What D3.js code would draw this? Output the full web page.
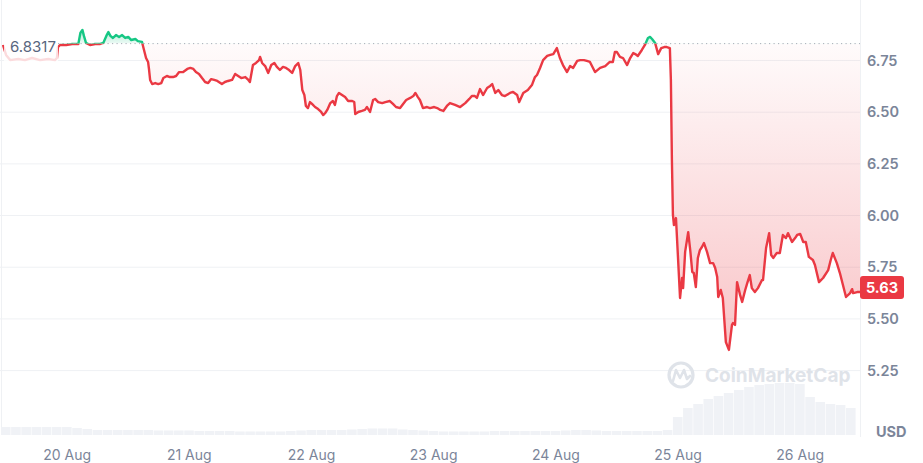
<!DOCTYPE html>
<html><head><meta charset="utf-8">
<script src="https://cdn.jsdelivr.net/npm/d3@7"></script>
<style>html,body{margin:0;padding:0;background:#fff;} svg{display:block;font-family:Inter,"DejaVu Sans",sans-serif;}</style>
</head><body><svg id="c" width="923" height="463"></svg>
<script>
// ---- data (hours since 20 Aug 00:00 UTC, price in USD) ----
const hours = [-12.6,-12.0,-11.2,-9.6,-8.3,-6.9,-5.3,-3.7,-2.4,-2.0,-1.8,-1.4,-0.2,1.0,2.2,2.6,3.0,3.3,3.7,4.5,5.5,6.5,7.1,7.7,8.1,8.5,9.0,9.6,10.2,10.8,11.4,12.0,12.6,13.4,13.9,14.7,15.1,15.5,15.9,16.1,16.3,16.7,17.3,17.9,18.5,18.9,19.6,20.2,20.8,21.4,22.0,22.8,23.6,24.2,24.8,25.3,25.9,26.5,27.1,27.7,28.3,28.9,29.5,30.1,30.4,31.0,31.6,32.4,33.0,33.6,34.2,35.0,35.6,35.9,36.5,37.1,37.7,37.9,38.3,38.9,39.5,40.1,40.7,41.2,41.8,42.4,43.0,43.6,44.2,44.8,45.4,45.8,46.2,46.6,46.9,47.3,47.7,48.1,48.7,49.3,49.9,50.3,50.7,51.1,51.7,52.2,52.6,53.0,53.4,54.0,54.6,55.2,56.0,56.4,56.6,57.2,57.9,58.5,58.9,59.5,60.1,60.5,61.1,61.9,62.5,63.4,64.0,64.6,65.4,66.0,66.6,67.4,68.0,68.4,68.9,69.3,69.9,70.7,71.3,72.1,72.7,73.3,73.9,74.6,75.2,76.2,77.2,78.2,79.0,79.5,80.1,80.5,81.1,81.7,82.5,83.1,83.5,84.1,84.7,85.4,86.0,87.0,87.6,88.4,88.8,89.6,90.5,91.3,91.9,92.3,92.9,93.5,94.3,94.9,95.5,96.2,96.8,97.4,98.2,98.8,99.4,100.2,100.8,101.5,102.1,102.7,103.7,104.7,105.7,106.6,107.2,107.6,108.0,108.6,109.2,110.0,110.6,111.2,111.6,112.1,112.9,113.5,114.1,114.5,114.9,115.5,116.1,116.7,117.3,117.8,118.4,118.6,118.8,119.0,119.2,119.6,120.0,120.4,120.8,121.0,121.4,122.0,122.4,122.8,123.1,123.5,123.9,124.3,124.7,125.1,125.7,126.3,126.9,127.3,127.7,127.9,128.4,128.8,129.4,130.0,130.6,130.8,131.2,131.6,132.2,132.6,133.2,133.6,134.1,134.5,135.1,135.7,136.5,136.7,137.3,137.9,138.3,138.7,139.4,140.0,140.6,141.2,141.6,142.4,143.0,143.4,144.0,144.6,145.1,145.7,146.5,146.9,147.7,148.5,149.5,150.0,150.4,151.2,151.8,152.4,153.0,153.8,154.2,154.4,155.2,155.75];
const prices = [6.825,6.777,6.752,6.757,6.752,6.762,6.752,6.757,6.752,6.762,6.815,6.825,6.825,6.830,6.830,6.883,6.898,6.869,6.835,6.825,6.830,6.830,6.835,6.869,6.888,6.869,6.859,6.873,6.864,6.873,6.859,6.864,6.849,6.854,6.844,6.840,6.801,6.762,6.743,6.704,6.656,6.636,6.641,6.636,6.641,6.665,6.675,6.670,6.670,6.675,6.694,6.694,6.709,6.714,6.709,6.694,6.685,6.665,6.646,6.641,6.660,6.656,6.651,6.641,6.636,6.646,6.651,6.656,6.685,6.675,6.665,6.670,6.656,6.646,6.728,6.738,6.752,6.767,6.738,6.723,6.690,6.728,6.738,6.719,6.704,6.719,6.714,6.704,6.690,6.723,6.738,6.704,6.607,6.583,6.530,6.520,6.549,6.540,6.525,6.515,6.501,6.486,6.496,6.511,6.544,6.554,6.535,6.578,6.593,6.583,6.573,6.554,6.554,6.549,6.491,6.501,6.506,6.511,6.525,6.501,6.559,6.564,6.549,6.544,6.549,6.554,6.540,6.525,6.520,6.540,6.559,6.569,6.578,6.593,6.573,6.559,6.520,6.525,6.520,6.525,6.520,6.511,6.506,6.530,6.544,6.535,6.525,6.544,6.564,6.578,6.578,6.569,6.612,6.583,6.617,6.627,6.636,6.593,6.607,6.583,6.578,6.593,6.598,6.583,6.549,6.593,6.607,6.631,6.670,6.680,6.714,6.752,6.772,6.777,6.781,6.810,6.762,6.728,6.694,6.723,6.714,6.748,6.752,6.752,6.748,6.743,6.694,6.714,6.723,6.743,6.743,6.791,6.791,6.767,6.762,6.728,6.762,6.786,6.781,6.772,6.801,6.825,6.859,6.864,6.854,6.835,6.781,6.810,6.815,6.815,6.810,6.656,6.269,6.003,5.954,5.988,5.795,5.601,5.698,5.649,5.824,5.920,5.833,5.727,5.722,5.654,5.795,5.833,5.848,5.867,5.824,5.770,5.770,5.746,5.703,5.606,5.640,5.601,5.388,5.350,5.471,5.480,5.471,5.678,5.615,5.582,5.640,5.673,5.712,5.649,5.630,5.649,5.688,5.688,5.843,5.915,5.809,5.795,5.819,5.819,5.906,5.891,5.915,5.872,5.891,5.906,5.911,5.872,5.872,5.800,5.785,5.761,5.678,5.698,5.736,5.785,5.819,5.770,5.722,5.664,5.606,5.625,5.644,5.625,5.630,5.630];
const basePrice = 6.8317;
const lastPriceLabel = "5.63";
const volStartHour = -12, volStepHours = 2; // volume bars every 2 hours
const volumes = [8,8,8,8,8,8,8,7,6,5,5,5,5,5,5,4.5,4.5,4.5,4.5,4,4,4,4,3.5,3.5,3.5,3.5,3.5,4,4.5,5,5,5,5,5.5,6,6.5,6.5,6.5,5.5,5,4.5,4,3.5,3.5,3.5,3.5,3.5,4,4,4,4,4,4,4,4.5,5,5,4.5,4,4,4,4,4,4,5,18,27,31,36,39,42,45,48,50,51,52,52,51,38,33,31,30,27];
const yTicks = [5.25,5.50,5.75,6.00,6.25,6.50,6.75];
const dayTicks = ["2024-08-20","2024-08-21","2024-08-22","2024-08-23","2024-08-24","2024-08-25","2024-08-26"];
const currency = "USD";
const watermark = "CoinMarketCap";

// ---- layout ----
const W = 923, H = 463;
const plotL = 1, plotR = 860, plotT = 0, plotB = 435;
const RED = "#ea3943", GREEN = "#16c784";
const t0 = Date.UTC(2024,7,20);
const toDate = h => new Date(t0 + h*3600e3);
const data = hours.map((h,i)=>({d: toDate(h), v: prices[i]}));

const svg = d3.select("#c");
const x = d3.scaleUtc().domain([data[0].d, data[data.length-1].d]).range([3, plotR]);
const y = d3.scaleLinear().domain([5.25, 6.75]).range([370.6, 60.5]);
const yb = y(basePrice);

const defs = svg.append("defs");
const gr = defs.append("linearGradient").attr("id","gRed").attr("gradientUnits","userSpaceOnUse")
  .attr("x1",0).attr("x2",0).attr("y1",yb).attr("y2",y(5.35));
gr.append("stop").attr("offset",0).attr("stop-color",RED).attr("stop-opacity",0.02);
gr.append("stop").attr("offset",1).attr("stop-color",RED).attr("stop-opacity",0.3);
const gg = defs.append("linearGradient").attr("id","gGreen").attr("gradientUnits","userSpaceOnUse")
  .attr("x1",0).attr("x2",0).attr("y1",y(6.9)).attr("y2",yb);
gg.append("stop").attr("offset",0).attr("stop-color",GREEN).attr("stop-opacity",0.35);
gg.append("stop").attr("offset",1).attr("stop-color",GREEN).attr("stop-opacity",0.08);
defs.append("clipPath").attr("id","above").append("rect").attr("x",0).attr("y",0).attr("width",plotR).attr("height",yb);
defs.append("clipPath").attr("id","below").append("rect").attr("x",0).attr("y",yb).attr("width",plotR).attr("height",plotB-yb);

// grid
svg.append("g").selectAll("line").data(yTicks).join("line")
  .attr("x1",0).attr("x2",plotR).attr("y1",d=>y(d)).attr("y2",d=>y(d))
  .attr("stroke","#eff1f4").attr("stroke-width",1);
// borders
svg.append("line").attr("x1",plotL+0.5).attr("x2",plotL+0.5).attr("y1",plotT).attr("y2",plotB).attr("stroke","#eff1f4");
svg.append("line").attr("x1",plotR+0.5).attr("x2",plotR+0.5).attr("y1",plotT).attr("y2",plotB+2).attr("stroke","#eff1f4");

// volume
const yv = d3.scaleLinear().domain([0, 60]).range([plotB, plotB-60]);
const volW = x(toDate(volStepHours)) - x(toDate(0));
svg.append("g").selectAll("rect").data(volumes).join("rect")
  .attr("x",(d,i)=>x(toDate(volStartHour + i*volStepHours)) - volW/2)
  .attr("width",volW-0.6)
  .attr("y",d=>yv(d)).attr("height",d=>plotB-yv(d))
  .attr("fill","#f0f2f6");

// watermark
const wm = svg.append("g").attr("fill","none").attr("stroke","#dfe3e9");
wm.append("circle").attr("cx",681).attr("cy",375).attr("r",12).attr("stroke-width",3.2);
wm.append("path").attr("d","M673,381 L676,370 L680,378 L684,370 L687,379 L690,376").attr("stroke-width",2.6).attr("stroke-linejoin","round").attr("stroke-linecap","round");
svg.append("text").attr("x",705).attr("y",382).attr("font-size",19).attr("font-weight",700)
  .attr("fill","#dfe3e9").text(watermark);

// areas
const area = d3.area().x(d=>x(d.d)).y0(yb).y1(d=>y(d.v));
const line = d3.line().x(d=>x(d.d)).y(d=>y(d.v));
svg.append("path").datum(data).attr("d",area).attr("fill","url(#gRed)").attr("clip-path","url(#below)");
svg.append("path").datum(data).attr("d",area).attr("fill","url(#gGreen)").attr("clip-path","url(#above)");

// baseline dotted
svg.append("line").attr("x1",58).attr("x2",plotR).attr("y1",yb).attr("y2",yb)
  .attr("stroke","#a7adb8").attr("stroke-width",1).attr("stroke-dasharray","1.2,3.3");

// lines
svg.append("path").datum(data).attr("d",line).attr("fill","none").attr("stroke",RED).attr("stroke-width",2.4)
  .attr("stroke-linejoin","round").attr("clip-path","url(#below)");
svg.append("path").datum(data).attr("d",line).attr("fill","none").attr("stroke",GREEN).attr("stroke-width",2.4)
  .attr("stroke-linejoin","round").attr("clip-path","url(#above)");

// base label
svg.append("rect").attr("x",4).attr("y",34).attr("width",54).attr("height",32).attr("fill","#fff").attr("opacity",0.82);
svg.append("text").attr("x",10).attr("y",52).attr("font-size",15).attr("fill","#58667e").text(d3.format(".4f")(basePrice));

// y axis labels
svg.append("g").selectAll("text").data(yTicks).join("text")
  .attr("x",867).attr("y",d=>y(d)+5).attr("font-size",14.5).attr("font-weight",600).attr("fill","#7b8599")
  .text(d=>d3.format(".2f")(d));
svg.append("text").attr("x",876).attr("y",437).attr("font-size",14.5).attr("font-weight",700).attr("fill","#7b8599").text(currency);

// x axis labels
svg.append("g").selectAll("text").data(dayTicks.map(s=>new Date(s+"T00:00:00Z"))).join("text")
  .attr("x",d=>x(d)).attr("y",460).attr("text-anchor","middle").attr("font-size",14).attr("fill","#7b8599")
  .text(d=>d3.utcFormat("%-d %b")(d));

// last price tag
const yl = y(prices[prices.length-1]) - 5;
svg.append("rect").attr("x",860).attr("y",yl-11).attr("width",44).attr("height",23).attr("rx",3).attr("fill",RED);
svg.append("text").attr("x",882).attr("y",yl+5.5).attr("text-anchor","middle").attr("font-size",14.5).attr("font-weight",700)
  .attr("fill","#fff").text(lastPriceLabel);
</script></body></html>
